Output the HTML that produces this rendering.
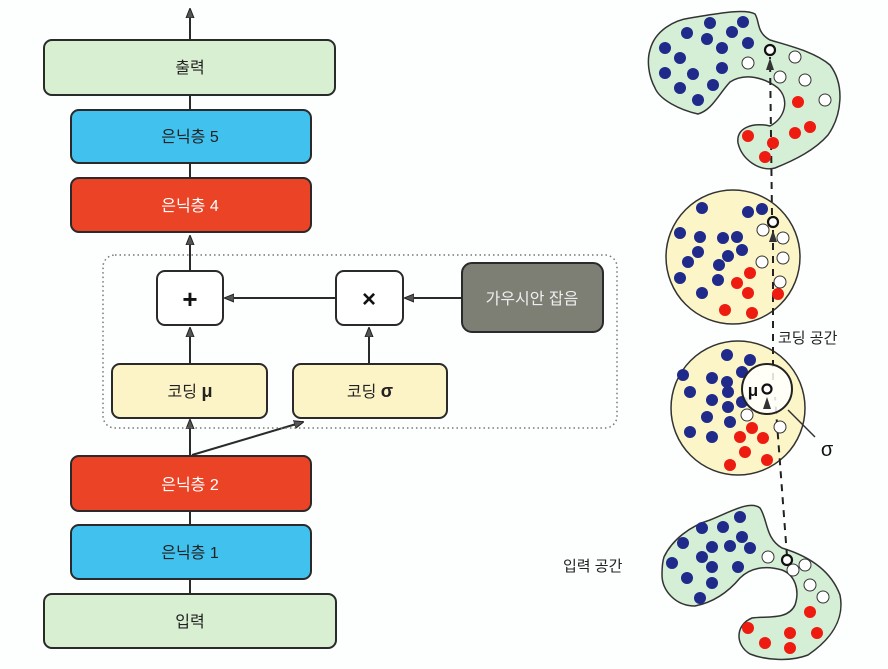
<!DOCTYPE html>
<html><head><meta charset="utf-8"><style>
html,body{margin:0;padding:0;background:#fff;}
svg{display:block;}
text{font-family:"Liberation Sans","Noto Sans CJK KR",sans-serif;}
</style></head><body>
<svg width="888" height="669" viewBox="0 0 888 669" xmlns="http://www.w3.org/2000/svg">
<defs>
<marker id="ah" markerWidth="10" markerHeight="10" refX="9" refY="5" orient="auto" markerUnits="userSpaceOnUse">
<path d="M0,1 L10,5 L0,9 Z" fill="#555" stroke="#222" stroke-width="1"/></marker>
<marker id="ahs" markerWidth="8" markerHeight="8" refX="7" refY="4" orient="auto" markerUnits="userSpaceOnUse">
<path d="M0,0.5 L8,4 L0,7.5 Z" fill="#444"/></marker>
</defs>
<rect width="888" height="669" fill="#fdfefe"/>
<g stroke="#2a2a2a" stroke-width="2">
<line x1="190" y1="40" x2="190" y2="9" marker-end="url(#ah)"/>
<line x1="190" y1="95" x2="190" y2="110"/>
<line x1="190" y1="163" x2="190" y2="178"/>
<line x1="190" y1="271" x2="190" y2="236" marker-end="url(#ah)"/>
<line x1="190" y1="364" x2="190" y2="328" marker-end="url(#ah)"/>
<line x1="369" y1="364" x2="369" y2="328" marker-end="url(#ah)"/>
<line x1="336" y1="298" x2="225" y2="298" marker-end="url(#ah)"/>
<line x1="462" y1="298" x2="405" y2="298" marker-end="url(#ah)"/>
<line x1="190" y1="456" x2="190" y2="420" marker-end="url(#ah)"/>
<line x1="192" y1="455" x2="303" y2="422" marker-end="url(#ah)"/>
<line x1="190" y1="511" x2="190" y2="525"/>
<line x1="190" y1="579" x2="190" y2="594"/>
</g>
<rect x="103" y="255" width="514" height="173" rx="12" fill="none" stroke="#777" stroke-width="1.5" stroke-dasharray="1.5 3"/>
<g stroke="#2a2a2a" stroke-width="2">
<rect x="44" y="40" width="291" height="55" rx="8" fill="#d8efd2"/>
<rect x="71" y="110" width="240" height="53" rx="8" fill="#40c1ee"/>
<rect x="71" y="178" width="240" height="54" rx="8" fill="#ea4326"/>
<rect x="157" y="271" width="66" height="54" rx="8" fill="#fff"/>
<rect x="336" y="271" width="67" height="54" rx="8" fill="#fff"/>
<rect x="462" y="263" width="141" height="69" rx="10" fill="#7d7e74"/>
<rect x="112" y="364" width="155" height="54" rx="8" fill="#fcf4c6"/>
<rect x="293" y="364" width="154" height="54" rx="8" fill="#fcf4c6"/>
<rect x="71" y="456" width="240" height="55" rx="8" fill="#ea4326"/>
<rect x="71" y="525" width="240" height="54" rx="8" fill="#40c1ee"/>
<rect x="44" y="594" width="292" height="54" rx="8" fill="#d8efd2"/>
</g>
<g font-size="16" text-anchor="middle">
<text x="190" y="73" fill="#222">출력</text>
<text x="190" y="142" fill="#222">은닉층 5</text>
<text x="190" y="211" fill="#fff">은닉층 4</text>
<text x="190" y="308" font-size="26" font-weight="bold" fill="#111">+</text>
<text x="369" y="307" font-size="24" font-weight="bold" fill="#111">×</text>
<text x="532" y="304" fill="#eee">가우시안 잡음</text>
<text x="190" y="397" fill="#222">코딩 <tspan font-weight="bold" font-size="18">μ</tspan></text>
<text x="370" y="397" fill="#222">코딩 <tspan font-weight="bold" font-size="18">σ</tspan></text>
<text x="190" y="490" fill="#fff">은닉층 2</text>
<text x="190" y="558" fill="#222">은닉층 1</text>
<text x="190" y="627" fill="#222">입력</text>
</g>
<!-- right side shapes -->
<path d="M650,50 C655,30 675,20 690,18 C715,14 745,8 755,14 C760,22 756,32 770,40 C790,46 815,52 830,65 C845,85 842,115 828,135 C815,150 795,160 775,168 C760,172 742,160 738,143 C736,128 752,122 770,126 C785,118 790,100 778,88 C765,78 745,72 730,82 C718,95 712,110 698,114 C680,110 660,100 655,88 C648,75 647,60 650,50 Z" fill="#d5eed6" stroke="#333" stroke-width="1.5"/>
<circle cx="733" cy="257" r="67" fill="#fbf5c8" stroke="#333" stroke-width="1.5"/>
<circle cx="738" cy="408" r="67" fill="#fbf5c8" stroke="#333" stroke-width="1.5"/>
<path d="M664,557 C672,540 690,526 710,520 C730,512 750,500 760,508 C768,520 765,538 782,548 C805,555 830,568 840,595 C845,620 830,640 808,655 C790,662 765,660 750,654 C735,645 735,625 752,618 C768,616 788,620 795,605 C800,590 795,575 782,570 C765,565 750,568 740,578 C730,590 715,602 695,606 C675,606 662,590 662,575 C662,565 663,560 664,557 Z" fill="#d5eed6" stroke="#333" stroke-width="1.5"/>
<!-- dashed line -->
<g stroke="#222" stroke-width="2" stroke-dasharray="7 6" fill="none">
<line x1="787" y1="556" x2="775" y2="397"/>
<line x1="773" y1="380" x2="773" y2="230"/>
<line x1="772" y1="215" x2="770" y2="57"/>
</g>
<g fill="#1f2a8a">
<circle cx="710" cy="23" r="6"/><circle cx="743" cy="22" r="6"/><circle cx="687" cy="33" r="6"/><circle cx="732" cy="32" r="6"/><circle cx="707" cy="39" r="6"/><circle cx="665" cy="48" r="6"/><circle cx="722" cy="48" r="6"/><circle cx="748" cy="43" r="6"/><circle cx="680" cy="58" r="6"/><circle cx="693" cy="74" r="6"/><circle cx="722" cy="68" r="6"/><circle cx="665" cy="73" r="6"/><circle cx="713" cy="85" r="6"/><circle cx="680" cy="88" r="6"/><circle cx="698" cy="100" r="6"/>
<circle cx="702" cy="208" r="6"/><circle cx="748" cy="212" r="6"/><circle cx="762" cy="209" r="6"/><circle cx="680" cy="233" r="6"/><circle cx="700" cy="237" r="6"/><circle cx="723" cy="238" r="6"/><circle cx="737" cy="237" r="6"/><circle cx="698" cy="252" r="6"/><circle cx="742" cy="250" r="6"/><circle cx="728" cy="256" r="6"/><circle cx="688" cy="262" r="6"/><circle cx="719" cy="265" r="6"/><circle cx="680" cy="278" r="6"/><circle cx="718" cy="280" r="6"/><circle cx="702" cy="293" r="6"/>
<circle cx="683" cy="375" r="6"/><circle cx="727" cy="355" r="6"/><circle cx="750" cy="360" r="6"/><circle cx="712" cy="378" r="6"/><circle cx="727" cy="382" r="6"/><circle cx="742" cy="372" r="6"/><circle cx="690" cy="392" r="6"/><circle cx="728" cy="392" r="6"/><circle cx="712" cy="400" r="6"/><circle cx="728" cy="407" r="6"/><circle cx="707" cy="417" r="6"/><circle cx="730" cy="422" r="6"/><circle cx="690" cy="432" r="6"/><circle cx="712" cy="437" r="6"/><circle cx="742" cy="402" r="6"/>
<circle cx="740" cy="517" r="6"/><circle cx="702" cy="528" r="6"/><circle cx="723" cy="527" r="6"/><circle cx="742" cy="537" r="6"/><circle cx="683" cy="543" r="6"/><circle cx="712" cy="547" r="6"/><circle cx="730" cy="546" r="6"/><circle cx="750" cy="548" r="6"/><circle cx="702" cy="557" r="6"/><circle cx="672" cy="563" r="6"/><circle cx="712" cy="567" r="6"/><circle cx="738" cy="567" r="6"/><circle cx="687" cy="578" r="6"/><circle cx="712" cy="583" r="6"/><circle cx="700" cy="598" r="6"/>
</g>
<g fill="#ee1c10">
<circle cx="798" cy="102" r="6"/><circle cx="810" cy="127" r="6"/><circle cx="795" cy="133" r="6"/><circle cx="748" cy="136" r="6"/><circle cx="773" cy="143" r="6"/><circle cx="765" cy="157" r="6"/>
<circle cx="750" cy="273" r="6"/><circle cx="737" cy="283" r="6"/><circle cx="748" cy="293" r="6"/><circle cx="778" cy="294" r="6"/><circle cx="725" cy="310" r="6"/><circle cx="752" cy="313" r="6"/>
<circle cx="752" cy="428" r="6"/><circle cx="740" cy="437" r="6"/><circle cx="763" cy="438" r="6"/><circle cx="745" cy="452" r="6"/><circle cx="767" cy="460" r="6"/><circle cx="730" cy="465" r="6"/>
<circle cx="810" cy="612" r="6"/><circle cx="748" cy="628" r="6"/><circle cx="790" cy="633" r="6"/><circle cx="817" cy="633" r="6"/><circle cx="765" cy="643" r="6"/><circle cx="790" cy="648" r="6"/>
</g>
<g fill="#fff" stroke="#333" stroke-width="1">
<circle cx="748" cy="63" r="6"/><circle cx="795" cy="57" r="6"/><circle cx="780" cy="77" r="6"/><circle cx="805" cy="80" r="6"/><circle cx="825" cy="100" r="6"/>
<circle cx="763" cy="230" r="6"/><circle cx="783" cy="238" r="6"/><circle cx="762" cy="262" r="6"/><circle cx="783" cy="258" r="6"/><circle cx="780" cy="282" r="6"/>
<circle cx="747" cy="415" r="6"/><circle cx="780" cy="427" r="6"/>
<circle cx="768" cy="557" r="6"/><circle cx="793" cy="570" r="6"/><circle cx="805" cy="565" r="6"/><circle cx="810" cy="585" r="6"/><circle cx="823" cy="597" r="6"/>
</g>
<circle cx="767" cy="389" r="25" fill="#fff" fill-opacity="0.85" stroke="#222" stroke-width="2"/>
<g fill="#fff" stroke="#111" stroke-width="2.2">
<circle cx="770" cy="50" r="5"/><circle cx="773" cy="222" r="5"/><circle cx="767" cy="389" r="4.5"/><circle cx="787" cy="560" r="5"/>
</g>
<g fill="#333">
<path d="M766,70 L770,58 L774,70 Z"/><path d="M769,242 L773,230 L777,242 Z"/><path d="M763,409 L767,397 L771,409 Z"/>
</g>
<line x1="788" y1="410" x2="815" y2="437" stroke="#333" stroke-width="1.5"/>
<text x="753" y="396" font-size="17" font-weight="bold" text-anchor="middle" fill="#111">μ</text>
<text x="827" y="456" font-size="20" text-anchor="middle" fill="#111">σ</text>
<text x="778" y="343" font-size="15" fill="#222">코딩 공간</text>
<text x="563" y="571" font-size="15" fill="#222">입력 공간</text>
</svg>
</body></html>
